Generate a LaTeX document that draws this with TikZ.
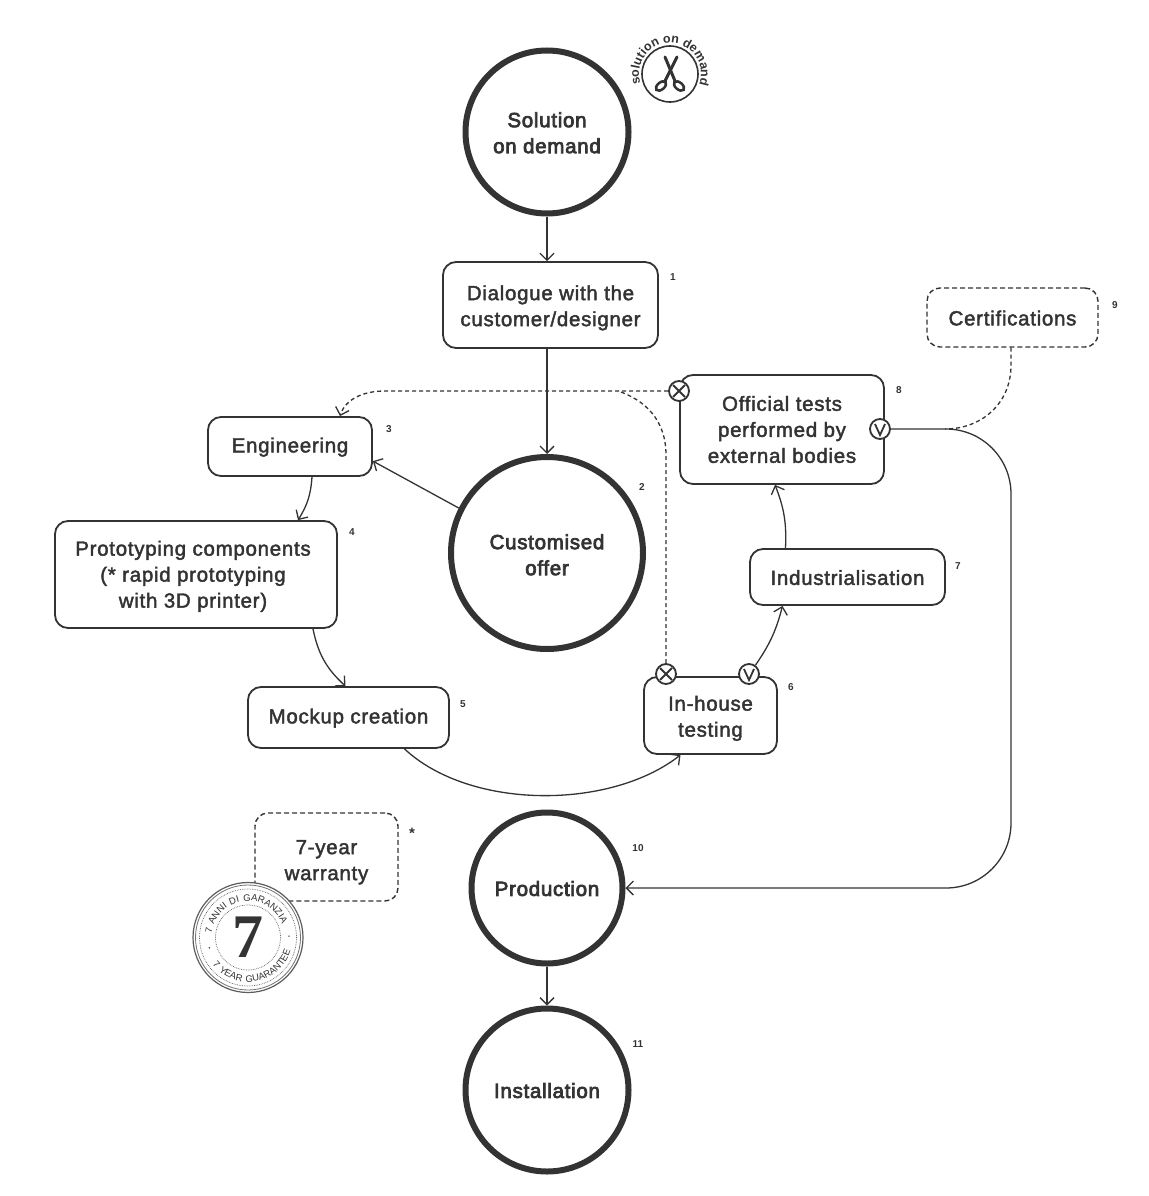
\documentclass[tikz,border=0pt]{standalone}
\usepackage{fontspec}
\usetikzlibrary{arrows.meta,decorations.text}
\setmainfont{Liberation Sans}[RawFeature={embolden=2},LetterSpace=3.5]
\newfontfamily\heavyfont{Liberation Sans}[RawFeature={embolden=3.5},LetterSpace=3.5]
\newfontfamily\badgefont{Liberation Sans Bold}
\newfontfamily\stampfont{Liberation Sans}[LetterSpace=12]
\newfontfamily\sevenfont{Liberation Serif Bold}
\definecolor{ink}{HTML}{333333}
\tikzset{
  lift/.style={execute at begin node={\rule{0pt}{#1pt}}},
  bigstep/.style={circle,draw=ink,line width=6pt,text=ink,align=center,inner sep=0pt,lift=16,font=\fontsize{20.5}{26}\selectfont\heavyfont},
  stepbox/.style={rectangle,rounded corners=13pt,draw=ink,line width=1.8pt,fill=white,text=ink,align=center,inner sep=0pt,lift=16,font=\fontsize{20.5}{26}\selectfont},
  notebox/.style={stepbox,dash pattern=on 5pt off 3pt,line width=1.4pt},
  numlabel/.style={text=ink,inner sep=0pt,font=\fontsize{10}{10}\selectfont\badgefont},
  link/.style={draw=ink,line width=1.3pt,->},
  dashline/.style={draw=ink,line width=1.3pt,dash pattern=on 4pt off 3pt},
  markx/.style={circle,draw=ink,line width=1.8pt,fill=white,minimum size=20pt,inner sep=0pt,path picture={
    \draw[ink,line width=1.8pt] (path picture bounding box.center) ++(-6,-6) -- ++(12,12) ++(-12,0) -- ++(12,-12);}},
  markv/.style={circle,draw=ink,line width=1.8pt,fill=white,minimum size=20pt,inner sep=0pt,path picture={
    \draw[ink,line width=1.8pt] (path picture bounding box.center) ++(-5,-5) -- ++(5,11) -- ++(5,-11);}},
  >={Straight Barb[length=7pt,width=14pt]}
}
\begin{document}
\begin{tikzpicture}[x=1pt,y=-1pt]
  \useasboundingbox (0,0) rectangle (1148,1196);
  % main circles
  \node[bigstep,minimum size=163pt,lift=42.5] (solution) at (547,132) {Solution\\on demand};
  \node[bigstep,minimum size=192pt,lift=44.5] (offer) at (547,553) {Customised\\offer};
  \node[bigstep,minimum size=151pt] (production) at (547,888) {Production};
  \node[bigstep,minimum size=163pt] (installation) at (547,1090) {Installation};
  % boxes
  \node[stepbox,minimum width=215pt,minimum height=86pt,lift=46.5] (dialogue) at (550.5,305) {Dialogue with the\\customer/designer};
  \node[stepbox,minimum width=164pt,minimum height=59pt] (engineering) at (290,446.5) {Engineering};
  \node[stepbox,minimum width=282pt,minimum height=107pt,lift=70.5,execute at end node={\hspace{6pt}}] (prototyping) at (196,574.5) {Prototyping components\\(* rapid prototyping\\with 3D printer)};
  \node[stepbox,minimum width=201pt,minimum height=61pt] (mockup) at (348.5,717.5) {Mockup creation};
  \node[stepbox,minimum width=133pt,minimum height=77pt,lift=46.5] (inhouse) at (710.5,715.5) {In-house\\testing};
  \node[stepbox,minimum width=195pt,minimum height=56pt] (industrial) at (847.5,577) {Industrialisation};
  \node[stepbox,minimum width=204pt,minimum height=109pt,lift=15] (official) at (782,429.5) {Official tests\\performed by\\external bodies};
  \node[notebox,minimum width=171pt,minimum height=59pt] (certifications) at (1012.5,317.5) {Certifications};
  \node[notebox,minimum width=143pt,minimum height=88pt,lift=50.5] (warranty) at (326.5,857) {7-year\\warranty};
  % connectors
  \draw[link] (solution) -- (solution |- dialogue.north);
  \draw[link] (dialogue.south -| offer) -- (offer.north);
  \draw[link] (offer.153) -- (engineering.-10);
  \draw[link] ([xshift=22pt]engineering.south) to[bend left=14] ([xshift=8pt]engineering.south |- prototyping.north);
  \draw[link] ([xshift=117pt]prototyping.south) to[bend right=18] ([xshift=-3pt]mockup.north);
  \draw[link] ([xshift=56pt]mockup.south) .. controls (470,810) and (610,810) .. ([xshift=-30pt]inhouse.south);
  \coordinate (v6end) at ([xshift=-65pt]industrial.south);
  \coordinate (v7start) at ([xshift=-62pt]industrial.north);
  \coordinate (o8end) at ([xshift=-7pt]official.south);
  \draw[link] (v7start) to[bend right=12] (o8end);
  % dashed branches
  \node[markx] (x8) at (679,391) {};
  \node[markv] (v8) at (880,429) {};
  \node[markx] (x6) at (666,674) {};
  \node[markv] (v6) at (749,674) {};
  \draw[link] (v6) to[bend right=10] (v6end);
  \coordinate (turn) at (618,391);
  \draw[dashline,->] (x8.west) -- (385,391) .. controls (362,391) and (345,400) .. ([xshift=50pt]engineering.north);
  \draw[dashline] (x6.north) -- (666,455) .. controls (666,420) and (645,400) .. (turn);
  \draw[dashline] (certifications.south -| 1011,0) -- (1011,365) .. controls (1011,405) and (980,429) .. (945,429);
  \draw[link,rounded corners=65pt] (v8.east) -- (1011,429) -- (1011,888) -- (production.east);
  \draw[link] (production) -- (installation.north);
  % numbers
  \foreach \pos/\num in {(673,277)/1,(642,487)/2,(389,429)/3,(352,532)/4,(463,704)/5,(791,687)/6,(958,566)/7,(899,390)/8,(1115,305)/9,(638,848)/10,(638,1044)/11}
    \node[numlabel] (num\num) at \pos {\num};
  \node[text=ink,inner sep=0pt,font=\fontsize{15}{15}\selectfont\badgefont] (numstar) at (412,833) {*};
  % scissors badge
  \begin{scope}[shift={(670,74)},y=1pt]
    \node[circle,draw=ink,line width=1.6pt,minimum size=56pt] (badge) at (0,0) {};
    \draw[ink,line width=3pt,line cap=round] (-5,17) -- (5,-7);
    \draw[ink,line width=3pt,line cap=round] (7,17) -- (-5,-7);
    \draw[ink,line width=2.6pt,rotate around={40:(-9,-12)}] (-9,-12) ellipse (6 and 3.5);
    \draw[ink,line width=2.6pt,rotate around={-40:(9,-12)}] (9,-12) ellipse (6 and 3.5);
    \path[decorate,decoration={text along path,text align=center,text={|\fontsize{12.5}{12.5}\selectfont\badgefont\color{ink}|solution on demand}}] (192:31) arc (192:-14:31);
  \end{scope}
  % warranty stamp
  \begin{scope}[shift={(248,937.5)},y=1pt]
    \node[circle,draw=ink!80,fill=white,line width=1.2pt,minimum size=110pt] (stamp) at (0,0) {};
    \draw[ink!70,line width=.8pt] (0,0) circle (52.5);
    \draw[ink!80,line width=.7pt,densely dotted] (0,0) circle (48.5);
    \draw[ink!80,line width=.7pt,densely dotted] (0,0) circle (32.5);
    \node[text=ink,inner sep=0pt,font=\fontsize{62}{62}\selectfont\sevenfont] (seven) at (0,0) {7};
    \path[decorate,decoration={text along path,text align=center,text={|\fontsize{9.5}{9.5}\selectfont\stampfont\color{ink}|7 ANNI DI GARANZIA}}] (180:36.5) arc (180:15:36.5);
    \path[decorate,decoration={text along path,text align=center,text={|\fontsize{9.5}{9.5}\selectfont\stampfont\color{ink}|7 YEAR GUARANTEE}}] (208:44.5) arc (208:352:44.5);
    \fill[ink] (195:40) circle (.8) (2:41) circle (.8);
  \end{scope}
\end{tikzpicture}
\end{document}
